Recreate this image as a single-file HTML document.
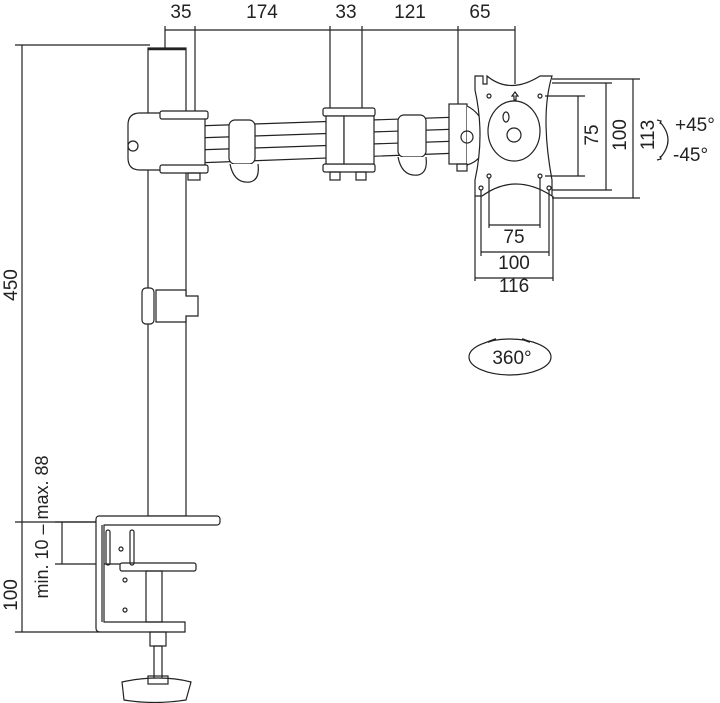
<!DOCTYPE html>
<html><head><meta charset="utf-8"><style>
html,body{margin:0;padding:0;background:#fff;}
svg{display:block;}
text{font-family:"Liberation Sans","DejaVu Sans",sans-serif;fill:#222;}
</style></head><body>
<svg width="720" height="703" viewBox="0 0 720 703" xmlns="http://www.w3.org/2000/svg">
<g stroke="#222" stroke-width="1.2" fill="none">
<line x1="165" y1="30" x2="515" y2="30"/>
<line x1="165" y1="26" x2="165" y2="50"/>
<line x1="195" y1="26" x2="195" y2="113"/>
<line x1="330" y1="26" x2="330" y2="108"/>
<line x1="362" y1="26" x2="362" y2="108"/>
<line x1="458" y1="26" x2="458" y2="104"/>
<line x1="515" y1="26" x2="515" y2="84"/>
<line x1="22" y1="45" x2="22" y2="632"/>
<line x1="15" y1="45" x2="150" y2="45"/>
<line x1="15" y1="522" x2="100" y2="522"/>
<line x1="15" y1="632" x2="100" y2="632"/>
<line x1="62" y1="522" x2="62" y2="564"/>
<line x1="55" y1="522" x2="100" y2="522"/>
<line x1="55" y1="564" x2="122" y2="564"/>
<rect x="148" y="48" width="38" height="468" fill="#fff"/>
<line x1="148" y1="49" x2="186" y2="49" stroke-width="2.5"/>
<rect x="142" y="288" width="12" height="36" rx="4" fill="#fff"/>
<path d="M156 290 h30 v6 h12 v20 h-12 v6 h-30 z" fill="#fff"/>
<path d="M195 126 L460 117 L460 153 L195 163 Z" fill="#fff"/>
<line x1="195" y1="138" x2="460" y2="129"/>
<line x1="195" y1="150" x2="460" y2="141"/>
<rect x="229" y="120" width="26" height="44" rx="6" fill="#fff"/>
<path d="M230 164 q4 20 20 18 q10 -2 8 -18" fill="#fff"/>
<rect x="398" y="115" width="28" height="42" rx="6" fill="#fff"/>
<path d="M398 157 q4 20 20 18 q10 -2 8 -18" fill="#fff"/>
<rect x="323" y="108" width="52" height="8" rx="2" fill="#fff"/>
<rect x="323" y="164" width="52" height="8" rx="2" fill="#fff"/>
<rect x="326" y="116" width="18" height="48" fill="#fff"/>
<rect x="344" y="116" width="30" height="48" fill="#fff"/>
<rect x="330" y="172" width="10" height="8"/><rect x="356" y="172" width="10" height="8"/>
<path d="M140 113 H205 V170 H140 Q128 170 128 158 V125 Q128 113 140 113 Z" fill="#fff"/>
<rect x="160" y="111" width="48" height="8" rx="2" fill="#fff"/>
<rect x="160" y="165" width="48" height="8" rx="2" fill="#fff"/>
<circle cx="133" cy="146" r="5"/>
<rect x="188" y="173" width="12" height="7"/>
<rect x="449" y="104" width="18" height="60" fill="#fff"/>
<path d="M467 106 Q485 115 485 138 Q485 160 467 165" fill="#fff"/>
<circle cx="467" cy="137" r="6"/>
<rect x="457" y="164" width="10" height="7"/>
<path d="M475 76 H483 V84 H487 V76 Q510 95 540 76 H552 Q540 115 552 180 V196 Q515 172 482 196 H475 V180 Q485 135 475 90 Z" fill="#fff"/>
<ellipse cx="514" cy="131" rx="26" ry="30"/>
<circle cx="514" cy="135" r="7"/>
<ellipse cx="506" cy="117" rx="3" ry="5"/>
<path d="M512 96 l3 -4 l3 4 h-2 v4 h-2 v-4 z"/>
<circle cx="489" cy="96" r="2"/><circle cx="540" cy="96" r="2"/>
<circle cx="489" cy="176" r="2"/><circle cx="540" cy="176" r="2"/>
<circle cx="481" cy="188" r="2"/><circle cx="549" cy="188" r="2"/>
<line x1="545" y1="96" x2="585" y2="96"/><line x1="545" y1="176" x2="585" y2="176"/>
<line x1="578" y1="96" x2="578" y2="176"/>
<line x1="552" y1="83" x2="612" y2="83"/><line x1="552" y1="190" x2="612" y2="190"/>
<line x1="606" y1="83" x2="606" y2="190"/>
<line x1="552" y1="79" x2="640" y2="79"/><line x1="552" y1="198" x2="640" y2="198"/>
<line x1="633" y1="79" x2="633" y2="198"/>
<path d="M660 122 Q676 140 660 158"/>
<path d="M657 120 l4 1 l-1 3"/><path d="M657 160 l4 -1 l-1 -3"/>
<line x1="489" y1="178" x2="489" y2="228"/><line x1="540" y1="178" x2="540" y2="228"/>
<line x1="489" y1="225" x2="540" y2="225"/>
<line x1="481" y1="190" x2="481" y2="256"/><line x1="549" y1="190" x2="549" y2="256"/>
<line x1="481" y1="252" x2="549" y2="252"/>
<line x1="475" y1="196" x2="475" y2="281"/><line x1="553" y1="196" x2="553" y2="281"/>
<line x1="475" y1="278" x2="553" y2="278"/>
<ellipse cx="510" cy="357" rx="41" ry="18"/>
<path d="M488 342 l8 -3 M522 339 l8 3" stroke-width="2"/>
<rect x="96" y="516" width="124" height="9" rx="3" fill="#fff"/>
<path d="M96 520 V628 Q96 632 100 632 H185 V622 H104 V525" fill="#fff"/>
<line x1="102" y1="525" x2="102" y2="622"/>
<rect x="120" y="563" width="76" height="8" rx="2" fill="#fff"/>
<rect x="146" y="571" width="16" height="51"/>
<rect x="106" y="530" width="4" height="35" rx="2"/><rect x="130" y="530" width="4" height="35" rx="2"/>
<circle cx="121" cy="549" r="2"/><circle cx="125" cy="580" r="2"/><circle cx="125" cy="610" r="2"/>
<rect x="150" y="632" width="16" height="14"/>
<rect x="154" y="646" width="8" height="36"/>
<path d="M122 682 Q140 678 158 678 Q176 678 191 682 L186 700 Q155 705 124 700 Z" fill="#fff"/>
<rect x="148" y="676" width="20" height="8"/>
</g>
<g font-size="19">
<text x="181" y="18" text-anchor="middle">35</text>
<text x="262" y="18" text-anchor="middle">174</text>
<text x="346" y="18" text-anchor="middle">33</text>
<text x="410" y="18" text-anchor="middle">121</text>
<text x="480" y="18" text-anchor="middle">65</text>
<text transform="translate(17,285) rotate(-90)" text-anchor="middle">450</text>
<text transform="translate(17,595) rotate(-90)" text-anchor="middle">100</text>
<text transform="translate(48,527) rotate(-90)" text-anchor="middle" font-size="18">min. 10 – max. 88</text>
<text transform="translate(598,135) rotate(-90)" text-anchor="middle">75</text>
<text transform="translate(626,135) rotate(-90)" text-anchor="middle">100</text>
<text transform="translate(654,135) rotate(-90)" text-anchor="middle">113</text>
<text x="675" y="131">+45°</text>
<text x="673" y="161">-45°</text>
<text x="514" y="243" text-anchor="middle">75</text>
<text x="514" y="269" text-anchor="middle">100</text>
<text x="514" y="292" text-anchor="middle">116</text>
<text x="512" y="364" text-anchor="middle">360°</text>
</g>
</svg>
</body></html>
